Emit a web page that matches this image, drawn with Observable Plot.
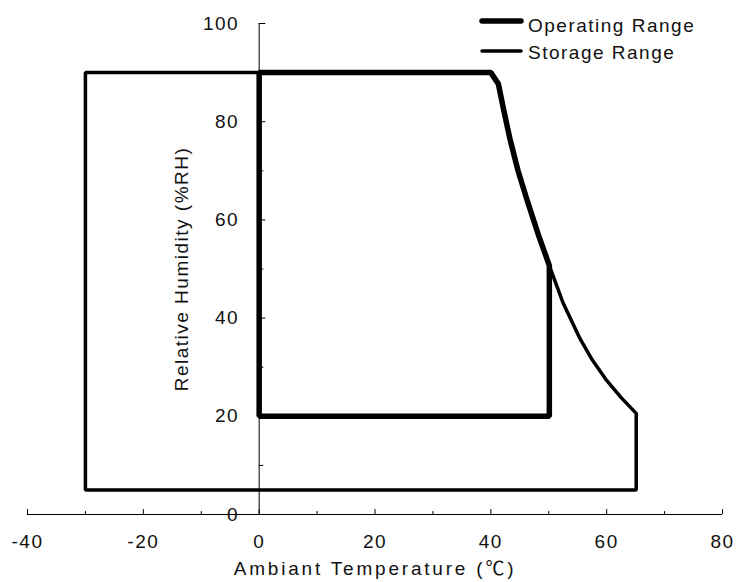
<!DOCTYPE html>
<html><head><meta charset="utf-8">
<script src="https://cdn.jsdelivr.net/npm/d3@7"></script>
<script src="https://cdn.jsdelivr.net/npm/@observablehq/plot@0.6"></script>
<style>body{margin:0;background:#fff}</style>
</head><body><div id="chart"></div>
<script>
// ---- data ----
const xTicks = [-40, -20, 0, 20, 40, 60, 80];
const xMinorTicks = [-30, -10, 10, 30, 50, 70];
const yTicks = [0, 20, 40, 60, 80, 100];
const yMinorTicks = [10, 30, 50, 70, 90];
const seriesNames = ["Operating Range", "Storage Range"];
const operatingT  = [0, 0, 40, 41.3, 42.2, 43.3, 44.7, 46.4, 48.2, 50.1, 50.1];
const operatingRH = [20, 90, 90, 87.7, 82.5, 76.5, 70, 63.5, 57, 50.7, 20];
const storageT  = [-30, -30, 40, 41.3, 42.2, 43.3, 44.7, 46.4, 48.2, 50.1, 52.5, 55.4, 57.5, 60, 62.5, 65.1, 65.1];
const storageRH = [5, 90, 90, 87.7, 82.5, 76.5, 70, 63.5, 57, 50.7, 43, 35.8, 31.5, 27.3, 23.8, 20.6, 5];
const xTitle = "Ambiant Temperature (℃)";
const yTitle = "Relative Humidity (%RH)";
const axisAt = 0;

const pts = (T, RH) => T.map((t, i) => ({t, rh: RH[i]}));
const operating = pts(operatingT, operatingRH);
const storage = pts(storageT, storageRH);
const font = "'Liberation Sans', Arial, 'Noto Sans CJK SC', sans-serif";

const plot = Plot.plot({
  width: 736, height: 582,
  marginLeft: 27, marginRight: 14, marginTop: 23, marginBottom: 68,
  x: {domain: [xTicks[0], xTicks[xTicks.length - 1]], axis: null},
  y: {domain: [yTicks[0], yTicks[yTicks.length - 1]], axis: null},
  style: {fontFamily: font, fontSize: "19px", letterSpacing: "1.5px", color: "#000", background: "#fff"},
  marks: [
    // axes lines
    Plot.ruleY([axisAt], {x1: xTicks[0], x2: xTicks[xTicks.length - 1], stroke: "#000", strokeWidth: 1}),
    Plot.ruleX([axisAt], {y1: yTicks[0], y2: yTicks[yTicks.length - 1], stroke: "#000", strokeWidth: 1}),
    // x ticks (pointing up)
    Plot.ruleX(xTicks, {x: d => d, y1: axisAt, y2: axisAt + 1.0, stroke: "#000"}),
    Plot.ruleX(xMinorTicks, {x: d => d, y1: axisAt, y2: axisAt + 0.6, stroke: "#000"}),
    // y ticks (pointing right)
    Plot.ruleY(yTicks, {y: d => d, x1: axisAt, x2: axisAt + 1.15, stroke: "#000"}),
    Plot.ruleY(yMinorTicks, {y: d => d, x1: axisAt, x2: axisAt + 0.8, stroke: "#000"}),
    // tick labels
    Plot.text(xTicks, {x: d => d, frameAnchor: "bottom", dy: 33, text: d => String(d), fontSize: 19, fill: "#111"}),
    Plot.text(yTicks, {x: () => axisAt, y: d => d, dx: -20, textAnchor: "end", text: d => String(d), fontSize: 19, fill: "#111"}),
    // axis titles
    Plot.text([xTitle], {frameAnchor: "bottom", dy: 60, textAnchor: "middle", text: d => d, fontSize: 19, fill: "#111"}),
    Plot.text([yTitle], {frameAnchor: "left", dx: 154, rotate: -90, textAnchor: "middle", text: d => d, fontSize: 19, fill: "#111"}),
    // series
    Plot.line(storage, {x: "t", y: "rh", curve: "linear-closed", stroke: "#000", strokeWidth: 3.5, strokeLinejoin: "miter"}),
    Plot.line(operating, {x: "t", y: "rh", curve: "linear-closed", stroke: "#000", strokeWidth: 5.5, strokeLinejoin: "miter"})
  ]
});

// slightly wider tracking on the x-axis title, as in the reference
d3.select(plot).selectAll("text").filter(function() { return this.textContent === xTitle; })
  .style("letter-spacing", "2.8px");

// legend (top right, inside plot area)
const svg = d3.select(plot);
const lg = svg.append("g").attr("text-anchor", "start");
const legendItems = [
  {name: seriesNames[0], lineY: 21, textY: 32, w: 5.5},
  {name: seriesNames[1], lineY: 51, textY: 59, w: 3.5}
];
legendItems.forEach(it => {
  lg.append("line").attr("x1", 482).attr("x2", 521).attr("y1", it.lineY).attr("y2", it.lineY)
    .attr("stroke", "#000").attr("stroke-width", it.w).attr("stroke-linecap", "round");
  lg.append("text").attr("x", 528).attr("y", it.textY).attr("fill", "#111")
    .attr("text-anchor", "start").attr("font-size", 19).text(it.name);
});

document.getElementById("chart").appendChild(plot);
</script>
</body></html>
